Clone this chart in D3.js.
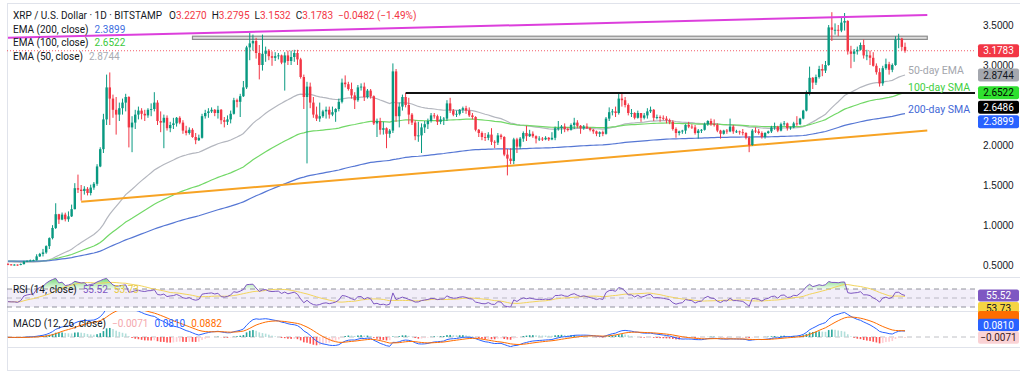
<!DOCTYPE html>
<html><head><meta charset="utf-8">
<script src="https://cdn.jsdelivr.net/npm/d3@7/dist/d3.min.js"></script>
<style>
html,body{margin:0;padding:0;background:#fff;overflow:hidden}
svg{display:block;font-family:Roboto,"Liberation Sans",Arial,sans-serif}
</style></head><body>
<svg id="chart" width="1024" height="378"></svg>
<script>
// ---------------- DATA (XRP/USD daily, Bitstamp) ----------------
const startDate = "2024-11-01";
const opens = [
 // Nov
 .514,.507,.505,.505,.501,.511,.543,.552,.557,.560,.608,.638,.657,.736,.836,.963,1.135,1.068,1.130,1.072,1.108,1.198,1.460,1.442,1.425,1.452,1.400,1.468,1.515,1.732,
 // Dec
 1.948,2.320,2.720,2.580,2.440,2.380,2.460,2.530,2.600,2.220,2.280,2.380,2.430,2.390,2.370,2.440,2.450,2.530,2.300,2.280,2.340,2.210,2.250,2.270,2.340,2.280,2.180,2.150,2.190,2.100,2.060,
 // Jan
 2.090,2.360,2.400,2.420,2.440,2.400,2.440,2.310,2.290,2.320,2.390,2.560,2.540,2.610,2.720,3.220,3.270,3.300,3.150,3.000,3.140,3.180,3.110,3.090,3.110,3.120,3.030,3.120,3.050,3.100,3.150,
 // Feb
 3.070,2.850,2.600,2.730,2.530,2.380,2.330,2.360,2.420,2.440,2.380,2.410,2.450,2.540,2.780,2.760,2.700,2.620,2.560,2.720,2.730,2.600,2.680,2.610,2.270,2.300,2.190,2.210,
 // Mar
 2.140,2.180,2.920,2.360,2.480,2.600,2.500,2.380,2.280,2.110,2.120,2.220,2.260,2.300,2.370,2.360,2.290,2.320,2.330,2.520,2.430,2.380,2.390,2.440,2.460,2.430,2.370,2.350,2.190,2.150,2.100,
 // Apr
 2.090,2.130,2.040,2.030,2.120,2.100,1.880,1.830,1.800,2.070,1.980,2.080,2.150,2.110,2.140,2.110,2.080,2.080,2.070,2.090,2.070,2.090,2.210,2.210,2.230,2.200,2.190,2.250,2.280,2.240,
 // May
 2.210,2.230,2.210,2.190,2.170,2.140,2.160,2.140,2.330,2.410,2.420,2.400,2.580,2.560,2.500,2.400,2.400,2.340,2.400,2.340,2.370,2.420,2.440,2.340,2.350,2.340,2.330,2.310,2.290,2.200,2.150,
 // Jun
 2.170,2.180,2.250,2.230,2.220,2.150,2.180,2.190,2.260,2.300,2.260,2.250,2.180,2.140,2.180,2.170,2.230,2.170,2.170,2.160,2.150,2.090,2.000,2.180,2.170,2.150,2.100,2.150,2.170,2.220,
 // Jul
 2.230,2.180,2.260,2.270,2.210,2.220,2.270,2.260,2.330,2.430,2.640,2.840,2.780,2.850,2.950,2.930,3.000,3.470,3.440,3.440,3.430,3.530,3.550,3.170,3.140,3.170,3.190,3.250,3.120,3.120,3.090,
 // Aug
 2.990,2.910,2.770,2.960,3.010,2.940,3.000,3.320,3.330,3.2270
];
const highs = [
 .522,.512,.510,.507,.519,.552,.558,.568,.568,.634,.651,.701,.746,.845,.998,1.272,1.140,1.156,1.154,1.170,1.255,1.523,1.630,1.500,1.485,1.474,1.504,1.537,1.760,1.972,
 2.390,2.880,2.907,2.630,2.600,2.530,2.580,2.640,2.610,2.360,2.440,2.480,2.460,2.440,2.460,2.520,2.660,2.560,2.420,2.380,2.370,2.290,2.340,2.350,2.360,2.310,2.240,2.220,2.210,2.150,2.130,
 2.390,2.440,2.460,2.470,2.450,2.490,2.450,2.350,2.370,2.430,2.590,2.580,2.640,2.800,3.240,3.400,3.380,3.340,3.250,3.380,3.230,3.200,3.170,3.160,3.150,3.130,3.160,3.180,3.180,3.190,3.190,
 3.090,2.880,2.790,2.780,2.600,2.480,2.530,2.440,2.480,2.480,2.480,2.460,2.580,2.830,2.870,2.790,2.780,2.660,2.750,2.770,2.780,2.700,2.700,2.620,2.330,2.340,2.290,2.220,
 2.200,3.020,2.950,2.530,2.630,2.650,2.590,2.400,2.310,2.290,2.270,2.300,2.330,2.400,2.400,2.380,2.360,2.350,2.560,2.590,2.450,2.430,2.450,2.480,2.490,2.470,2.400,2.360,2.200,2.170,2.150,
 2.160,2.210,2.060,2.150,2.140,2.110,1.950,1.960,2.090,2.090,2.100,2.170,2.240,2.190,2.170,2.120,2.110,2.100,2.110,2.100,2.160,2.230,2.300,2.250,2.270,2.220,2.270,2.340,2.310,2.250,
 2.250,2.270,2.220,2.200,2.180,2.170,2.180,2.350,2.470,2.450,2.480,2.650,2.640,2.600,2.520,2.450,2.410,2.430,2.400,2.400,2.460,2.480,2.450,2.380,2.370,2.370,2.360,2.330,2.310,2.220,2.180,
 2.190,2.260,2.290,2.260,2.250,2.200,2.200,2.280,2.310,2.330,2.320,2.270,2.190,2.190,2.200,2.330,2.250,2.190,2.180,2.200,2.160,2.110,2.200,2.220,2.200,2.170,2.160,2.180,2.240,2.280,
 2.240,2.280,2.300,2.280,2.230,2.290,2.360,2.340,2.440,2.680,2.980,2.850,2.880,2.990,3.010,3.050,3.500,3.660,3.520,3.500,3.600,3.650,3.560,3.240,3.200,3.230,3.280,3.320,3.190,3.180,3.160,
 3.020,2.960,2.990,3.080,3.040,3.020,3.360,3.390,3.340,3.2795
];
const lows = [
 .498,.495,.493,.491,.497,.506,.535,.546,.550,.555,.600,.607,.640,.700,.820,.950,1.013,1.060,1.045,1.040,1.100,1.195,1.400,1.305,1.380,1.370,1.370,1.440,1.490,1.723,
 1.900,2.250,2.250,2.340,2.130,2.300,2.380,2.420,1.970,1.910,2.200,2.320,2.320,2.300,2.340,2.360,2.420,2.250,2.160,1.960,2.180,2.160,2.200,2.230,2.260,2.140,2.120,2.130,2.090,2.010,2.050,
 2.080,2.330,2.340,2.400,2.360,2.330,2.260,2.220,2.250,2.270,2.380,2.470,2.350,2.600,2.700,3.060,3.180,3.080,2.820,2.930,3.040,3.060,2.990,3.050,3.070,3.010,2.680,3.000,3.000,3.040,3.000,
 2.830,2.450,1.770,2.460,2.340,2.300,2.290,2.340,2.330,2.330,2.360,2.290,2.420,2.520,2.720,2.680,2.580,2.450,2.540,2.680,2.550,2.580,2.580,2.250,2.100,2.130,2.130,1.960,
 2.090,2.150,2.290,2.220,2.430,2.470,2.260,2.250,2.060,2.040,1.900,2.150,2.200,2.280,2.330,2.250,2.260,2.250,2.300,2.400,2.360,2.350,2.370,2.400,2.390,2.350,2.320,2.170,2.100,2.060,2.050,
 2.060,2.000,1.960,2.000,2.070,1.860,1.620,1.760,1.760,1.900,1.950,2.040,2.050,2.100,2.090,2.020,2.050,2.050,2.060,2.050,2.060,2.060,2.180,2.140,2.160,2.170,2.180,2.200,2.210,2.140,
 2.190,2.200,2.170,2.140,2.110,2.100,2.110,2.130,2.300,2.370,2.350,2.380,2.480,2.470,2.370,2.350,2.320,2.330,2.290,2.320,2.330,2.400,2.300,2.320,2.290,2.310,2.270,2.260,2.180,2.090,2.120,
 2.140,2.140,2.210,2.200,2.130,2.080,2.150,2.180,2.240,2.240,2.230,2.160,2.080,2.130,2.140,2.160,2.140,2.150,2.130,2.120,2.070,1.910,1.990,2.150,2.130,2.080,2.080,2.140,2.150,2.190,
 2.160,2.170,2.240,2.180,2.190,2.210,2.240,2.250,2.320,2.420,2.620,2.700,2.750,2.830,2.860,2.900,2.990,3.300,3.380,3.360,3.410,3.430,3.130,2.960,3.040,3.130,3.180,3.080,3.060,3.000,2.980,
 2.880,2.730,2.740,2.940,2.880,2.910,2.990,3.210,3.180,3.1532
];
const closes = [
 .507,.505,.505,.501,.511,.543,.552,.557,.560,.608,.638,.657,.736,.836,.963,1.135,1.068,1.130,1.072,1.108,1.198,1.460,1.442,1.425,1.452,1.400,1.468,1.515,1.732,1.948,
 2.320,2.720,2.580,2.440,2.380,2.460,2.530,2.600,2.220,2.280,2.380,2.430,2.390,2.370,2.440,2.450,2.530,2.300,2.280,2.340,2.210,2.250,2.270,2.340,2.280,2.180,2.150,2.190,2.100,2.060,2.090,
 2.360,2.400,2.420,2.440,2.400,2.440,2.310,2.290,2.320,2.390,2.560,2.540,2.610,2.720,3.220,3.270,3.300,3.150,3.000,3.140,3.180,3.110,3.090,3.110,3.120,3.030,3.120,3.050,3.100,3.150,3.070,
 2.850,2.600,2.730,2.530,2.380,2.330,2.360,2.420,2.440,2.380,2.410,2.450,2.540,2.780,2.760,2.700,2.620,2.560,2.720,2.730,2.600,2.680,2.610,2.270,2.300,2.190,2.210,2.140,
 2.180,2.920,2.360,2.480,2.600,2.500,2.380,2.280,2.110,2.120,2.220,2.260,2.300,2.370,2.360,2.290,2.320,2.330,2.520,2.430,2.380,2.390,2.440,2.460,2.430,2.370,2.350,2.190,2.150,2.100,2.090,
 2.130,2.040,2.030,2.120,2.100,1.880,1.830,1.800,2.070,1.980,2.080,2.150,2.110,2.140,2.110,2.080,2.080,2.070,2.090,2.070,2.090,2.210,2.210,2.230,2.200,2.190,2.250,2.280,2.240,2.210,
 2.230,2.210,2.190,2.170,2.140,2.160,2.140,2.330,2.410,2.420,2.400,2.580,2.560,2.500,2.400,2.400,2.340,2.400,2.340,2.370,2.420,2.440,2.340,2.350,2.340,2.330,2.310,2.290,2.200,2.150,2.170,
 2.180,2.250,2.230,2.220,2.150,2.180,2.190,2.260,2.300,2.260,2.250,2.180,2.140,2.180,2.170,2.230,2.170,2.170,2.160,2.150,2.090,2.000,2.180,2.170,2.150,2.100,2.150,2.170,2.220,2.230,
 2.180,2.260,2.270,2.210,2.220,2.270,2.260,2.330,2.430,2.640,2.840,2.780,2.850,2.950,2.930,3.000,3.470,3.440,3.440,3.430,3.530,3.550,3.170,3.140,3.170,3.190,3.250,3.120,3.120,3.090,2.990,
 2.910,2.770,2.960,3.010,2.940,3.000,3.320,3.330,3.2265,3.1783
];
// levels of the pre-November history used to start the indicators
const emaPeriods = [50, 100, 200];
const emaStartLevels = [0.54, 0.55, 0.55];
const macdStartLevels = [0.520, 0.525, -0.004];   // EMA12, EMA26, signal
const rsiStartAverages = [0.0060, 0.0078];        // avg gain, avg loss

// drawn objects (date, price)
const resistanceLine = [["2024-11-01", 3.34], ["2025-08-17", 3.625]];
const supportLine    = [["2024-11-24", 1.29], ["2025-08-17", 2.18]];
const blackLevel     = ["2025-03-06", 2.6486];
const supplyZone     = ["2024-12-29", "2025-08-17", 3.32, 3.36];

// legend / label values
const ohlcLegend = ["3.2270", "3.2795", "3.1532", "3.1783"];
const changeLegend = "\u22120.0482 (\u22121.49%)";
const emaLegendNames = ["EMA (200, close)", "EMA (100, close)", "EMA (50, close)"];
const emaLegendValues = [2.3899, 2.6522, 2.8744];
const rsiValues = [55.52, 53.73];
const macdValues = [-0.0071, 0.0810, 0.0882];
const priceTicks = [0.5, 1, 1.5, 2, 3, 3.5];   // 2.5000 is hidden under the value tags
const monthTicks = ["2024-11-01","2024-12-01","2025-01-01","2025-02-01","2025-03-01","2025-04-01","2025-05-01","2025-06-01","2025-07-01","2025-08-01","2025-09-01"];
const monthLabels = ["Nov","Dec","2025","Feb","Mar","Apr","May","Jun","Jul","Aug","Sep"];
const maTags = ["50-day EMA", "100-day SMA", "200-day SMA"];

// ---------------- CHART ----------------
const parse = d3.utcParse("%Y-%m-%d");
const N = closes.length;
const dates = d3.range(N).map(i => d3.utcDay.offset(parse(startDate), i));

const UP = "#089981", DOWN = "#f23645", TXT = "#131722", GRID = "#e0e3eb";
const L = 7, R = 975;
const MAIN = [3, 277], RSIP = [277, 311], MACDP = [311, 347];

const x = d3.scaleUtc().domain([parse("2024-11-01"), parse("2025-09-01")]).range([8, 975]);
const y = d3.scaleLinear().domain([0.5, 3.5]).range([265, 25]);
const yR = d3.scaleLinear().domain([30, 70]).range([307, 289]);
const yM = d3.scaleLinear().domain([0, 0.3]).range([337, 315]);

const svg = d3.select("#chart");
svg.append("rect").attr("width", 1024).attr("height", 378).attr("fill", "#fff");
const defs = svg.append("defs");
function clip(id, x0, y0, w, h) {
  defs.append("clipPath").attr("id", id).append("rect").attr("x", x0).attr("y", y0).attr("width", w).attr("height", h);
}
clip("cMain", L, MAIN[0], R - L, MAIN[1] - MAIN[0]);
clip("cRsi", L, RSIP[0], R - L, RSIP[1] - RSIP[0]);
clip("cMacd", L, MACDP[0], R - L, MACDP[1] - MACDP[0]);
clip("cTime", 0, 340, 981, 38);

// frame / separators
[MAIN[0], MAIN[1], RSIP[1], MACDP[1], 370].forEach(v =>
  svg.append("line").attr("x1", L).attr("x2", 1020).attr("y1", v + 0.5).attr("y2", v + 0.5).attr("stroke", GRID));
svg.append("line").attr("x1", L + 0.5).attr("x2", L + 0.5).attr("y1", 3).attr("y2", 370).attr("stroke", GRID);

// ---------- indicators ----------
function ema(vals, n, start) { const a = 2 / (n + 1); let e = start; return vals.map(v => (e = a * v + (1 - a) * e)); }
const emas = emaPeriods.map((p, k) => ema(closes, p, emaStartLevels[k]));
const e12 = ema(closes, 12, macdStartLevels[0]);
const e26 = ema(closes, 26, macdStartLevels[1]);
const macd = e12.map((v, i) => v - e26[i]);
const signal = ema(macd, 9, macdStartLevels[2]);
const hist = macd.map((v, i) => v - signal[i]);
let ag = rsiStartAverages[0], al = rsiStartAverages[1], prev = opens[0];
const rsi = closes.map(c => {
  const ch = c - prev; prev = c;
  ag = (ag * 13 + Math.max(ch, 0)) / 14; al = (al * 13 + Math.max(-ch, 0)) / 14;
  return 100 - 100 / (1 + ag / al);
});
const rsiMa = rsi.map((v, i) => d3.mean(rsi.slice(Math.max(0, i - 13), i + 1)));

// ---------- main pane ----------
const gm = svg.append("g").attr("clip-path", "url(#cMain)");
const P = d => [x(parse(d[0])), y(d[1])];

// supply zone
gm.append("rect")
  .attr("x", x(parse(supplyZone[0]))).attr("width", x(parse(supplyZone[1])) - x(parse(supplyZone[0])))
  .attr("y", y(supplyZone[3])).attr("height", y(supplyZone[2]) - y(supplyZone[3]))
  .attr("fill", "#dcdcdc").attr("stroke", "#8d8d8d").attr("stroke-width", 1.2);

// moving averages
const maColors = ["#b4b7bf", "#72d867", "#5677d4"];
emas.forEach((arr, k) => {
  gm.append("path").datum(d3.range(N))
    .attr("d", d3.line().x(i => x(dates[i])).y(i => y(arr[i])))
    .attr("fill", "none").attr("stroke", maColors[k]).attr("stroke-width", 1.2);
});

// support (orange) line
gm.append("line").attr("x1", P(supportLine[0])[0]).attr("y1", P(supportLine[0])[1])
  .attr("x2", P(supportLine[1])[0]).attr("y2", P(supportLine[1])[1])
  .attr("stroke", "#f7a324").attr("stroke-width", 2);

// close price dotted line
gm.append("line").attr("x1", L).attr("x2", R).attr("y1", y(closes[N - 1])).attr("y2", y(closes[N - 1]))
  .attr("stroke", DOWN).attr("stroke-dasharray", "1,2").attr("stroke-width", 1).attr("opacity", 0.8);

// candles
const cg = gm.append("g");
cg.selectAll("line").data(d3.range(N)).join("line")
  .attr("x1", i => x(dates[i])).attr("x2", i => x(dates[i]))
  .attr("y1", i => y(highs[i])).attr("y2", i => y(lows[i]))
  .attr("stroke", i => closes[i] >= opens[i] ? UP : DOWN).attr("stroke-width", 1);
cg.selectAll("rect").data(d3.range(N)).join("rect")
  .attr("x", i => x(dates[i]) - 1.2).attr("width", 2.4)
  .attr("y", i => y(Math.max(opens[i], closes[i])))
  .attr("height", i => Math.max(0.9, Math.abs(y(opens[i]) - y(closes[i]))))
  .attr("fill", i => closes[i] >= opens[i] ? UP : DOWN);

// resistance (magenta) line
gm.append("line").attr("x1", P(resistanceLine[0])[0]).attr("y1", P(resistanceLine[0])[1])
  .attr("x2", P(resistanceLine[1])[0]).attr("y2", P(resistanceLine[1])[1])
  .attr("stroke", "#dc3fdc").attr("stroke-width", 2);

// black horizontal level
gm.append("line").attr("x1", x(parse(blackLevel[0]))).attr("x2", R)
  .attr("y1", y(blackLevel[1])).attr("y2", y(blackLevel[1]))
  .attr("stroke", "#111").attr("stroke-width", 2);

// MA tags
const tagColors = ["#a3a6ad", "#3fcf3f", "#4468d6"];
const tagY = [74, 91, 113];
maTags.forEach((t, k) => svg.append("text").attr("x", 908).attr("y", tagY[k])
  .attr("font-size", 10.5).attr("fill", tagColors[k]).text(t));

// ---------- legend ----------
const l1 = svg.append("text").attr("x", 13).attr("y", 18.5).attr("font-size", 10).attr("fill", TXT);
l1.append("tspan").text("XRP / U.S. Dollar \u00b7 1D \u00b7 BITSTAMP");
["O", "H", "L", "C"].forEach((k, i) => {
  l1.append("tspan").attr("dx", i === 0 ? 7 : 5).text(k);
  l1.append("tspan").attr("fill", DOWN).text(ohlcLegend[i]);
});
l1.append("tspan").attr("dx", 5).attr("fill", DOWN).text(changeLegend);
const legValColors = ["#3f6fe0", "#3cc93c", "#a9acb3"];
emaLegendNames.forEach((n, k) => {
  const t = svg.append("text").attr("x", 13).attr("y", 32.5 + k * 13.7).attr("font-size", 10).attr("fill", TXT);
  t.append("tspan").text(n);
  t.append("tspan").attr("dx", 6).attr("fill", legValColors[k]).text(emaLegendValues[k].toFixed(4));
});

// ---------- RSI pane ----------
const gr = svg.append("g").attr("clip-path", "url(#cRsi)");
gr.append("rect").attr("x", L).attr("width", R - L).attr("y", yR(70)).attr("height", yR(30) - yR(70))
  .attr("fill", "rgba(126,87,194,0.10)");
const grad = defs.append("linearGradient").attr("id", "gOb").attr("gradientUnits", "userSpaceOnUse")
  .attr("x1", 0).attr("x2", 0).attr("y1", RSIP[0]).attr("y2", yR(70));
grad.append("stop").attr("offset", 0).attr("stop-color", "rgba(56,200,56,0.75)");
grad.append("stop").attr("offset", 1).attr("stop-color", "rgba(56,200,56,0.08)");
gr.append("path").datum(d3.range(N))
  .attr("d", d3.area().x(i => x(dates[i])).y0(yR(70)).y1(i => yR(Math.max(70, rsi[i]))))
  .attr("fill", "url(#gOb)");
[70, 50, 30].forEach(v => gr.append("line").attr("x1", L).attr("x2", R).attr("y1", yR(v)).attr("y2", yR(v))
  .attr("stroke", "#787b86").attr("stroke-dasharray", "5,4").attr("opacity", v === 50 ? 0.45 : 0.8));
gr.append("path").datum(d3.range(N)).attr("d", d3.line().x(i => x(dates[i])).y(i => yR(rsiMa[i])))
  .attr("fill", "none").attr("stroke", "#f2d45c").attr("stroke-width", 1);
gr.append("path").datum(d3.range(N)).attr("d", d3.line().x(i => x(dates[i])).y(i => yR(rsi[i])))
  .attr("fill", "none").attr("stroke", "#7e57c2").attr("stroke-width", 1);
const rl = svg.append("text").attr("x", 13).attr("y", 292.5).attr("font-size", 10).attr("fill", TXT);
rl.append("tspan").text("RSI (14, close)");
rl.append("tspan").attr("dx", 6).attr("fill", "#7e57c2").text(rsiValues[0].toFixed(2));
rl.append("tspan").attr("dx", 6).attr("fill", "#e8c93c").text(rsiValues[1].toFixed(2));

// ---------- MACD pane ----------
const gd = svg.append("g").attr("clip-path", "url(#cMacd)");
gd.append("line").attr("x1", L).attr("x2", R).attr("y1", yM(0)).attr("y2", yM(0))
  .attr("stroke", "#9598a1").attr("stroke-dasharray", "5,4").attr("opacity", 0.6);
const hColor = i => {
  const h = hist[i], p = i > 0 ? hist[i - 1] : 0;
  return h >= 0 ? (p < h ? "#26a69a" : "#b2dfdb") : (p < h ? "#ffcdd2" : "#ff5252");
};
gd.selectAll("rect").data(d3.range(N)).join("rect")
  .attr("x", i => x(dates[i]) - 0.8).attr("width", 1.6)
  .attr("y", i => Math.min(yM(0), yM(hist[i])))
  .attr("height", i => Math.abs(yM(hist[i]) - yM(0)))
  .attr("fill", hColor);
gd.append("path").datum(d3.range(N)).attr("d", d3.line().x(i => x(dates[i])).y(i => yM(macd[i])))
  .attr("fill", "none").attr("stroke", "#2962ff").attr("stroke-width", 1);
gd.append("path").datum(d3.range(N)).attr("d", d3.line().x(i => x(dates[i])).y(i => yM(signal[i])))
  .attr("fill", "none").attr("stroke", "#ff6d00").attr("stroke-width", 1);
const ml = svg.append("text").attr("x", 13).attr("y", 326.5).attr("font-size", 10).attr("fill", TXT);
ml.append("tspan").text("MACD (12, 26, close)");
ml.append("tspan").attr("dx", 6).attr("fill", "#f4a7ad").text(macdValues[0].toFixed(4).replace("-", "\u2212"));
ml.append("tspan").attr("dx", 6).attr("fill", "#2962ff").text(macdValues[1].toFixed(4));
ml.append("tspan").attr("dx", 6).attr("fill", "#ff6d00").text(macdValues[2].toFixed(4));

// ---------- axes ----------
const ya = svg.append("g").attr("transform", `translate(${R},0)`)
  .call(d3.axisRight(y).tickValues(priceTicks).tickFormat(d3.format(".4f")).tickSize(0).tickPadding(8));
ya.select(".domain").remove();
ya.selectAll("text").attr("font-size", 10).attr("fill", TXT).attr("font-family", null);

const xa = svg.append("g").attr("clip-path", "url(#cTime)")
  .call(d3.axisBottom(x).tickValues(monthTicks.map(parse)).tickFormat((d, i) => monthLabels[i]).tickSize(0).tickPadding(0));
xa.attr("transform", "translate(0,354)");
xa.select(".domain").remove();
xa.selectAll("text").attr("font-size", 10.5).attr("fill", TXT).attr("font-family", null).attr("dy", "0.75em")
  .attr("font-weight", (d, i) => monthLabels[i] === "2025" ? 700 : 400);

// ---------- value labels on the price scale ----------
function stack(items, gap, dir) {
  items.sort((a, b) => dir > 0 ? a.y - b.y : b.y - a.y);
  for (let k = 1; k < items.length; k++)
    items[k].y = dir > 0 ? Math.max(items[k].y, items[k - 1].y + gap) : Math.min(items[k].y, items[k - 1].y - gap);
  return items;
}
function tag(it, h, withText = true) {
  svg.append("rect").attr("x", 978).attr("y", it.y - h / 2).attr("width", 41).attr("height", h)
    .attr("rx", 2).attr("fill", it.bg);
  if (withText)
    svg.append("text").attr("x", 998.5).attr("y", it.y + 3.6).attr("text-anchor", "middle")
      .attr("font-size", 10).attr("fill", it.fg).text(it.t);
}
const mainTags = stack([
  { v: closes[N - 1], t: ohlcLegend[3], bg: DOWN, fg: "#fff" },
  { v: emaLegendValues[2], t: emaLegendValues[2].toFixed(4), bg: "#a4a7ae", fg: TXT },
  { v: emaLegendValues[1], t: emaLegendValues[1].toFixed(4), bg: "#2fe02f", fg: "#000" },
  { v: blackLevel[1], t: blackLevel[1].toFixed(4), bg: "#000", fg: "#fff" },
  { v: emaLegendValues[0], t: emaLegendValues[0].toFixed(4), bg: "#2962ff", fg: "#fff" }
].map(o => Object.assign(o, { y: y(o.v) })), 14.5, 1);
mainTags.forEach(it => tag(it, 13));

const rsiTags = stack([
  { v: rsiValues[0], t: rsiValues[0].toFixed(2), bg: "#7e57c2", fg: "#fff" },
  { v: rsiValues[1], t: rsiValues[1].toFixed(2), bg: "#f5d443", fg: TXT }
].map(o => Object.assign(o, { y: yR(o.v) })), 12.5, 1);
rsiTags.forEach(it => tag(it, 12));

// MACD tags: histogram tag at its level, MACD above it; signal tag peeks out as a sliver
const histTag = { v: macdValues[0], t: macdValues[0].toFixed(4).replace("-", "\u2212"), bg: "#fad2d5", fg: "#3a1a1d", y: yM(macdValues[0]) };
const macdTag = { v: macdValues[1], t: macdValues[1].toFixed(4), bg: "#2962ff", fg: "#fff", y: Math.min(yM(macdValues[1]), histTag.y - 12.5) };
const sigTag = { v: macdValues[2], t: macdValues[2].toFixed(4), bg: "#ff6d00", fg: "#fff", y: macdTag.y - 8 };
tag(sigTag, 12, false);
tag(macdTag, 12.5);
tag(histTag, 12.5);
</script>
</body></html>
